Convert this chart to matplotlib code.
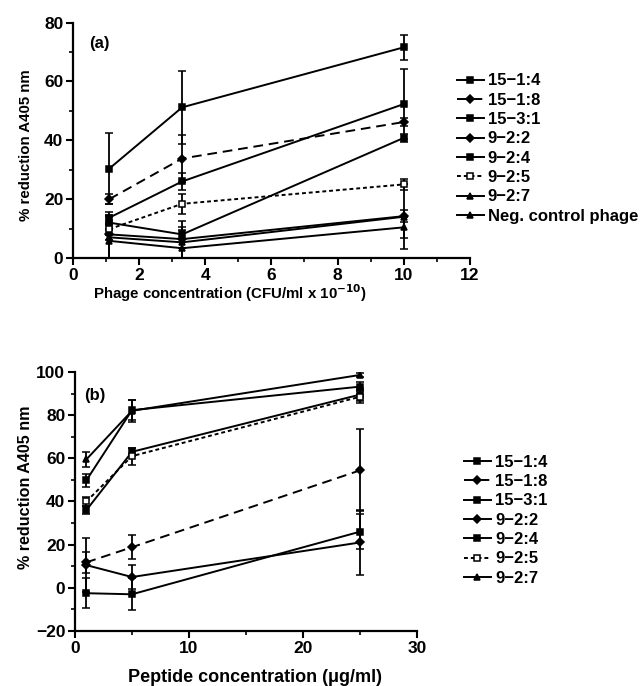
import matplotlib
matplotlib.use("Agg")
import matplotlib.pyplot as plt
from matplotlib.ticker import MultipleLocator

plt.rcParams['font.family'] = ['Liberation Sans', 'DejaVu Sans']
plt.rcParams['font.weight'] = 'bold'

# ---- panel (a): phage concentration ----
phage_x = [1.1, 3.3, 10]
phage_names = ["15\u22121:4", "15\u22121:8", "15\u22123:1", "9\u22122:2",
               "9\u22122:4", "9\u22122:5", "9\u22122:7", "Neg. control phage"]
phage_vals = [
    [30.4, 51.2, 71.6],
    [20.0, 33.8, 46.2],
    [13.7, 26.0, 52.3],
    [8.0, 6.4, 14.2],
    [12.0, 8.0, 40.8],
    [9.8, 18.4, 25.0],
    [7.0, 5.3, 14.0],
    [5.8, 3.3, 10.4],
]
phage_err = [
    [12.0, 12.5, 4.3],
    [1.8, 8.0, 1.5],
    [2.0, 3.0, 12.0],
    [2.0, 3.0, 2.0],
    [2.5, 4.5, 1.5],
    [2.0, 3.5, 2.0],
    [7.0, 5.3, 11.0],
    [5.8, 3.3, 3.5],
]

# ---- panel (b): peptide concentration ----
pep_x = [1, 5, 25]
pep_names = ["15\u22121:4", "15\u22121:8", "15\u22123:1", "9\u22122:2",
             "9\u22122:4", "9\u22122:5", "9\u22122:7"]
pep_vals = [
    [49.8, 82.3, 93.2],
    [11.8, 18.8, 54.4],
    [36.0, 63.0, 89.5],
    [10.5, 5.0, 21.0],
    [-2.5, -3.0, 26.0],
    [40.0, 61.0, 88.5],
    [59.5, 82.0, 98.6],
]
pep_err = [
    [3.0, 4.5, 2.0],
    [5.0, 5.5, 19.0],
    [2.0, 2.0, 3.0],
    [12.5, 5.5, 15.0],
    [7.0, 7.5, 8.0],
    [2.0, 4.0, 3.0],
    [3.5, 5.0, 1.0],
]

markers = ['s', 'D', 's', 'D', 's', 's', '^', '^']
styles = ['-', (0, (5, 3)), '-', '-', '-', (0, (2, 1.5)), '-', '-']
faces = ['k', 'k', 'k', 'k', 'k', 'white', 'k', 'k']
msizes = [5, 4, 5, 4, 5, 5, 5, 5]


def style_axes(ax):
    for s in ['top', 'right']:
        ax.spines[s].set_visible(False)
    for s in ['left', 'bottom']:
        ax.spines[s].set_linewidth(1.6)
    ax.tick_params(which='major', direction='out', length=5, width=1.5,
                   labelsize=12.5, pad=2)
    ax.tick_params(which='minor', direction='out', length=3, width=1.2)
    for lab in ax.get_xticklabels() + ax.get_yticklabels():
        lab.set_fontweight('bold')


def draw(ax, xs, names, vals, errs):
    for i, name in enumerate(names):
        ax.errorbar(xs, vals[i], yerr=errs[i], color='k',
                    linestyle=styles[i], linewidth=1.4, marker=markers[i],
                    markersize=msizes[i], markerfacecolor=faces[i],
                    markeredgecolor='k', markeredgewidth=1.1,
                    capsize=3, elinewidth=1.3, capthick=1.3, label=name)


fig = plt.figure(figsize=(6.41, 6.86), dpi=100)

ax1 = fig.add_axes([0.1139, 0.624, 0.619, 0.343])
draw(ax1, phage_x, phage_names, phage_vals, phage_err)
ax1.set_xlim(0, 12)
ax1.set_ylim(0, 80)
ax1.xaxis.set_major_locator(MultipleLocator(2))
ax1.xaxis.set_minor_locator(MultipleLocator(1))
ax1.yaxis.set_major_locator(MultipleLocator(20))
ax1.yaxis.set_minor_locator(MultipleLocator(10))
style_axes(ax1)
ax1.set_xlabel("Phage concentration (CFU/ml x 10$^{\\mathbf{-10}}$)",
               fontsize=10.8, fontweight='bold')
ax1.xaxis.set_label_coords(0.395, -0.105)
ax1.set_ylabel("% reduction A405 nm", fontsize=10.8, fontweight='bold')
ax1.yaxis.set_label_coords(-0.1, 0.48)
ax1.text(0.5, 73, "(a)", fontsize=12, fontweight='bold', va='center')
h, l = ax1.get_legend_handles_labels()
fig.legend([x[0] for x in h], l, loc='upper left',
           bbox_to_anchor=(0.713, 0.893), frameon=False, fontsize=12,
           handlelength=1.6, handletextpad=0.25, labelspacing=0.26,
           borderpad=0, borderaxespad=0)

ax2 = fig.add_axes([0.117, 0.0802, 0.5335, 0.3776])
draw(ax2, pep_x, pep_names, pep_vals, pep_err)
ax2.set_xlim(0, 30)
ax2.set_ylim(-20, 100)
ax2.xaxis.set_major_locator(MultipleLocator(10))
ax2.xaxis.set_minor_locator(MultipleLocator(5))
ax2.yaxis.set_major_locator(MultipleLocator(20))
ax2.yaxis.set_minor_locator(MultipleLocator(10))
style_axes(ax2)
ax2.set_xlabel("Peptide concentration (\u03bcg/ml)", fontsize=13,
               fontweight='bold')
ax2.xaxis.set_label_coords(0.526, -0.145)
ax2.set_ylabel("% reduction A405 nm", fontsize=11.6, fontweight='bold')
ax2.yaxis.set_label_coords(-0.123, 0.556)
ax2.text(0.8, 89, "(b)", fontsize=12, fontweight='bold', va='center')
h, l = ax2.get_legend_handles_labels()
fig.legend([x[0] for x in h], l, loc='upper left',
           bbox_to_anchor=(0.724, 0.337), frameon=False, fontsize=12,
           handlelength=1.6, handletextpad=0.25, labelspacing=0.26,
           borderpad=0, borderaxespad=0)

fig.savefig("out.png", dpi=100)
